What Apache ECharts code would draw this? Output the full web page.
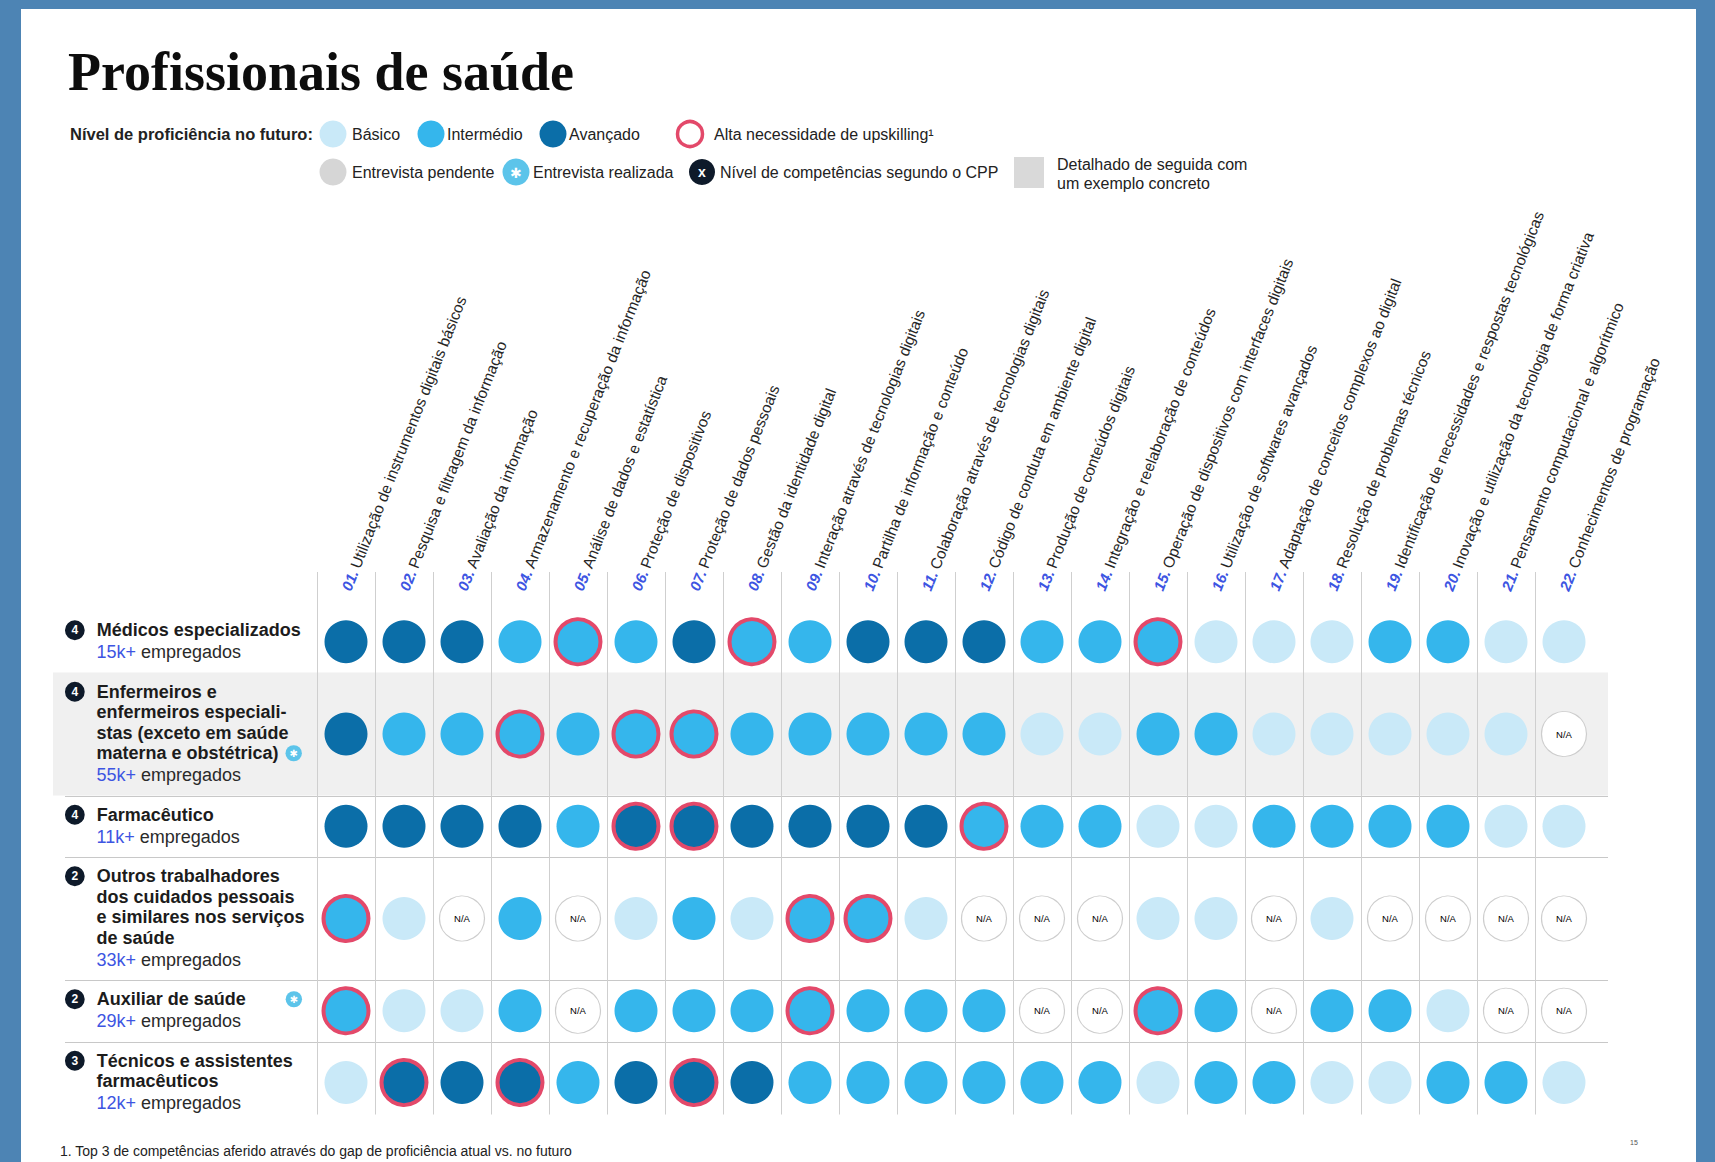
<!DOCTYPE html>
<html>
<head>
<meta charset="utf-8">
<script src="https://cdn.jsdelivr.net/npm/echarts@6/dist/echarts.min.js"></script>
<style>
html,body{margin:0;padding:0;width:1715px;height:1162px;background:#4d84b4;overflow:hidden}
#panel{position:absolute;left:21px;top:9px;width:1675px;height:1153px;background:#ffffff}
#chart{position:absolute;left:0;top:0;width:1715px;height:1162px}
</style>
</head>
<body>
<div id="panel"></div>
<div id="chart"></div>
<script>
// ---------------- DATA ----------------
const skills = [
  'Utilização de instrumentos digitais básicos',
  'Pesquisa e filtragem da informação',
  'Avaliação da informação',
  'Armazenamento e recuperação da informação',
  'Análise de dados e estatística',
  'Proteção de dispositivos',
  'Proteção de dados pessoais',
  'Gestão da identidade digital',
  'Interação através de tecnologias digitais',
  'Partilha de informação e conteúdo',
  'Colaboração através de tecnologias digitais',
  'Código de conduta em ambiente digital',
  'Produção de conteúdos digitais',
  'Integração e reelaboração de conteúdos',
  'Operação de dispositivos com interfaces digitais',
  'Utilização de softwares avançados',
  'Adaptação de conceitos complexos ao digital',
  'Resolução de problemas técnicos',
  'Identificação de necessidades e respostas tecnológicas',
  'Inovação e utilização da tecnologia de forma criativa',
  'Pensamento computacional e algorítmico',
  'Conhecimentos de programação'
];

const occupations = [
  'Médicos especializados',
  'Enfermeiros e\nenfermeiros especiali-\nstas (exceto em saúde\nmaterna e obstétrica)',
  'Farmacêutico',
  'Outros trabalhadores\ndos cuidados pessoais\ne similares nos serviços\nde saúde',
  'Auxiliar de saúde',
  'Técnicos e assistentes\nfarmacêuticos'
];
const cppLevel = [4, 4, 4, 2, 2, 3];
const employees = ['15k+', '55k+', '11k+', '33k+', '29k+', '12k+'];
const interviewDone = [false, true, false, false, true, false];
const detailedRow = [false, true, false, false, false, false];

// level codes: 0 = N/A, 1 = Básico, 2 = Intermédio, 3 = Avançado
const levelsMedicos      = [3,3,3,2,2,2,3,2,2,3,3,3,2,2,2,1,1,1,2,2,1,1];
const levelsEnfermeiros  = [3,2,2,2,2,2,2,2,2,2,2,2,1,1,2,2,1,1,1,1,1,0];
const levelsFarmaceutico = [3,3,3,3,2,3,3,3,3,3,3,2,2,2,1,1,2,2,2,2,1,1];
const levelsOutros       = [2,1,0,2,0,1,2,1,2,2,1,0,0,0,1,1,0,1,0,0,0,0];
const levelsAuxiliar     = [2,1,1,2,0,2,2,2,2,2,2,2,0,0,2,2,0,2,2,1,0,0];
const levelsTecnicos     = [1,3,3,3,2,3,3,3,2,2,2,2,2,2,1,2,2,1,1,2,2,1];

// skills (numbers) with high upskilling need (top 3)
const upskillMedicos      = [5, 8, 15];
const upskillEnfermeiros  = [4, 6, 7];
const upskillFarmaceutico = [6, 7, 12];
const upskillOutros       = [1, 9, 10];
const upskillAuxiliar     = [1, 9, 15];
const upskillTecnicos     = [2, 4, 7];

const levelRows = [levelsMedicos, levelsEnfermeiros, levelsFarmaceutico, levelsOutros, levelsAuxiliar, levelsTecnicos];
const upskillRows = [upskillMedicos, upskillEnfermeiros, upskillFarmaceutico, upskillOutros, upskillAuxiliar, upskillTecnicos];

// ---------------- STYLE / LAYOUT ----------------
const SANS = '"Liberation Sans", Arial, sans-serif';
const SERIF = '"Liberation Serif", "Times New Roman", serif';
const C_LIGHT = '#c9e9f8', C_MID = '#35b6ec', C_DARK = '#0b6ea8', C_RED = '#e3496a';
const C_NUM = '#3d55e2';
const levelColor = {1: C_LIGHT, 2: C_MID, 3: C_DARK};

const LINE_H = 20.5, EMP_H = 23, ROW_PAD = 18, HEADER_H = 39;
const rowHeights = occupations.map(o => o.split('\n').length * LINE_H + EMP_H + ROW_PAD);
const rowTops = [];
let acc = HEADER_H;
rowHeights.forEach(h => { rowTops.push(acc); acc += h; });
const totalH = acc;
const rowCenters = rowTops.map((t, i) => t + rowHeights[i] / 2);

const GRID_LEFT = 317, GRID_TOP = 572, COL_W = 58;

function pad2(n) { return (n < 10 ? '0' : '') + n; }

function rowLabel(i) {
  const lines = occupations[i].split('\n');
  const out = [];
  lines.forEach((ln, k) => {
    const lead = k === 0 ? '{b|' + cppLevel[i] + '}{g| }' : '{ind| }';
    const last = k === lines.length - 1;
    if (last && interviewDone[i]) out.push(lead + '{nw|' + ln + '}{ic|✱}');
    else out.push(lead + '{n|' + ln + '}');
  });
  out.push('{ind| }{k|' + employees[i] + '}{e| empregados}');
  return out.join('\n');
}

// scatter data
const scatterData = [];
levelRows.forEach((row, r) => {
  row.forEach((lv, c) => {
    const flagged = upskillRows[r].indexOf(c + 1) >= 0;
    if (lv === 0) {
      scatterData.push({
        value: [c, rowCenters[r]], symbolSize: 45,
        itemStyle: {color: '#ffffff', borderColor: '#cdcdcd', borderWidth: 1.2, opacity: 1},
        label: {show: true}
      });
    } else {
      scatterData.push({
        value: [c, rowCenters[r]], symbolSize: flagged ? 45 : 43,
        itemStyle: {color: levelColor[lv], borderColor: flagged ? C_RED : levelColor[lv], borderWidth: flagged ? 4 : 0, opacity: 1},
        label: {show: false}
      });
    }
  });
});

// ---------------- LEGEND / TITLE (graphic) ----------------
function txt(x, y, s, size, opts) {
  opts = opts || {};
  return {type: 'text', silent: true, style: {text: s, x: x, y: y, fill: opts.fill || '#222',
    font: (opts.weight || 'normal') + ' ' + size + 'px ' + (opts.family || SANS),
    textAlign: opts.align || 'left', textVerticalAlign: 'middle'}};
}
function circ(cx, cy, r, fill, stroke, lw) {
  return {type: 'circle', silent: true, shape: {cx: cx, cy: cy, r: r},
    style: {fill: fill, stroke: stroke || null, lineWidth: lw || 0}};
}
const L1 = 134, L2 = 172;
const graphics = [
  txt(68, 72, 'Profissionais de saúde', 54, {weight: 'bold', family: SERIF, fill: '#0d0d0d'}),
  txt(70, L1, 'Nível de proficiência no futuro:', 16.5, {weight: 'bold'}),
  circ(333, L1, 13.5, C_LIGHT), txt(352, L1, 'Básico', 16),
  circ(431, L1, 13.5, C_MID), txt(447, L1, 'Intermédio', 16),
  circ(553, L1, 13.5, C_DARK), txt(569, L1, 'Avançado', 16),
  circ(690, L1, 12.5, '#ffffff', C_RED, 3.5), txt(714, L1, 'Alta necessidade de upskilling¹', 16),
  circ(333, L2, 13.5, '#d6d6d6'), txt(352, L2, 'Entrevista pendente', 16),
  circ(516, L2, 13.5, '#5cc4ea'), txt(516, L2 + 1, '✱', 14, {fill: '#ffffff', align: 'center'}),
  txt(533, L2, 'Entrevista realizada', 16),
  circ(702, L2, 13, '#0e1a2a'), txt(702, L2, 'x', 14, {fill: '#ffffff', weight: 'bold', align: 'center'}),
  txt(720, L2, 'Nível de competências segundo o CPP', 16),
  {type: 'rect', silent: true, shape: {x: 1014, y: 157, width: 30, height: 31}, style: {fill: '#d9d9d9'}},
  txt(1057, 164, 'Detalhado de seguida com', 16),
  txt(1057, 183, 'um exemplo concreto', 16),
  txt(60, 1151, '1. Top 3 de competências aferido através do gap de proficiência atual vs. no futuro', 14),
  txt(1630, 1142, '15', 7, {fill: '#555'})
];

// ---------------- CHART ----------------
const chart = echarts.init(document.getElementById('chart'), null, {renderer: 'svg'});
chart.setOption({
  animation: false,
  backgroundColor: 'transparent',
  textStyle: {fontFamily: SANS},
  graphic: graphics,
  grid: {left: GRID_LEFT, top: GRID_TOP, width: COL_W * skills.length, height: totalH, containLabel: false, outerBoundsMode: 'none'},
  xAxis: {
    type: 'category', position: 'top', data: skills, boundaryGap: true,
    axisLine: {show: false, onZero: false}, axisTick: {show: false}, splitLine: {show: false},
    axisLabel: {
      interval: 0, rotate: -68.5, margin: -18,
      formatter: function (v, i) { return '{n|' + pad2(i + 1) + '.} {t|' + v + '}'; },
      rich: {
        n: {color: C_NUM, fontWeight: 'bold', fontStyle: 'italic', fontSize: 15, fontFamily: SANS},
        t: {color: '#262626', fontSize: 15.5, fontFamily: SANS}
      }
    }
  },
  yAxis: {
    type: 'value', inverse: true, min: 0, max: totalH,
    axisLine: {show: false}, axisTick: {show: false}, splitLine: {show: false},
    axisLabel: {
      customValues: rowCenters, align: 'left', margin: GRID_LEFT - 65,
      formatter: function (v) {
        let best = 0, bd = Infinity;
        rowCenters.forEach((c, i) => { const d = Math.abs(c - v); if (d < bd) { bd = d; best = i; } });
        return rowLabel(best);
      },
      rich: {
        b: {padding: [4, 6.5, 4, 6.5], lineHeight: 12, borderRadius: 10, backgroundColor: '#0e1a2a', color: '#ffffff',
            fontSize: 12, fontWeight: 'bold', align: 'left', verticalAlign: 'middle', fontFamily: SANS},
        g: {width: 12, fontSize: 18, lineHeight: LINE_H, align: 'left'},
        ind: {width: 31.5, fontSize: 18, lineHeight: LINE_H, align: 'left'},
        n: {fontSize: 18, fontWeight: 'bold', color: '#1c1c1c', lineHeight: LINE_H, fontFamily: SANS, verticalAlign: 'middle', align: 'left'},
        nw: {width: 189, fontSize: 18, fontWeight: 'bold', color: '#1c1c1c', lineHeight: LINE_H, fontFamily: SANS, verticalAlign: 'middle', align: 'left'},
        ic: {padding: [3, 4, 3, 4], lineHeight: 11, borderRadius: 9, backgroundColor: '#5cc4ea', color: '#ffffff',
             fontSize: 10, align: 'left', verticalAlign: 'middle', fontFamily: 'DejaVu Sans'},
        k: {fontSize: 18, color: C_NUM, lineHeight: EMP_H, fontFamily: SANS, verticalAlign: 'middle', align: 'left'},
        e: {fontSize: 18, color: '#2a2a2a', lineHeight: EMP_H, fontFamily: SANS, verticalAlign: 'middle', align: 'left'}
      }
    }
  },
  series: [
    {
      name: 'rows', type: 'custom', z: 0, clip: false, silent: true,
      data: occupations.map((o, i) => [0, rowCenters[i]]),
      renderItem: function (params, api) {
        const i = params.dataIndex;
        const cs = params.coordSys;
        const yTop = api.coord([0, rowTops[i]])[1];
        const yBot = api.coord([0, rowTops[i] + rowHeights[i]])[1];
        const children = [];
        if (detailedRow[i]) {
          children.push({type: 'rect', shape: {x: cs.x - 264, y: yTop, width: cs.width + 264 + 15, height: yBot - yTop},
            style: {fill: '#f0f0f0'}});
        }
        if (i < occupations.length - 1) {
          const y = Math.round(yBot) + 0.5;
          children.push({type: 'line', shape: {x1: cs.x - 252, y1: y, x2: cs.x + cs.width + 15, y2: y},
            style: {stroke: '#c8c8c8', lineWidth: 1}});
        }
        return {type: 'group', children: children};
      }
    },
    {
      name: 'cols', type: 'custom', z: 1, clip: false, silent: true,
      data: skills.map((s, c) => [c, 0]),
      renderItem: function (params, api) {
        const c = params.dataIndex;
        const bw = api.size([1, 0])[0];
        const x = Math.round(api.coord([c, 0])[0] - bw / 2) + 0.5;
        const y1 = api.coord([c, 0])[1];
        const y2 = api.coord([c, totalH - 9])[1];
        return {type: 'line', shape: {x1: x, y1: y1, x2: x, y2: y2}, style: {stroke: '#cfcfcf', lineWidth: 1}};
      }
    },
    {
      name: 'Nível de proficiência', type: 'scatter', z: 3, symbol: 'circle',
      itemStyle: {opacity: 1},
      data: scatterData,
      label: {show: false, position: 'inside', formatter: 'N/A', fontSize: 9.5, color: '#000', fontFamily: SANS},
      emphasis: {disabled: true}
    }
  ]
});
</script>
</body>
</html>
